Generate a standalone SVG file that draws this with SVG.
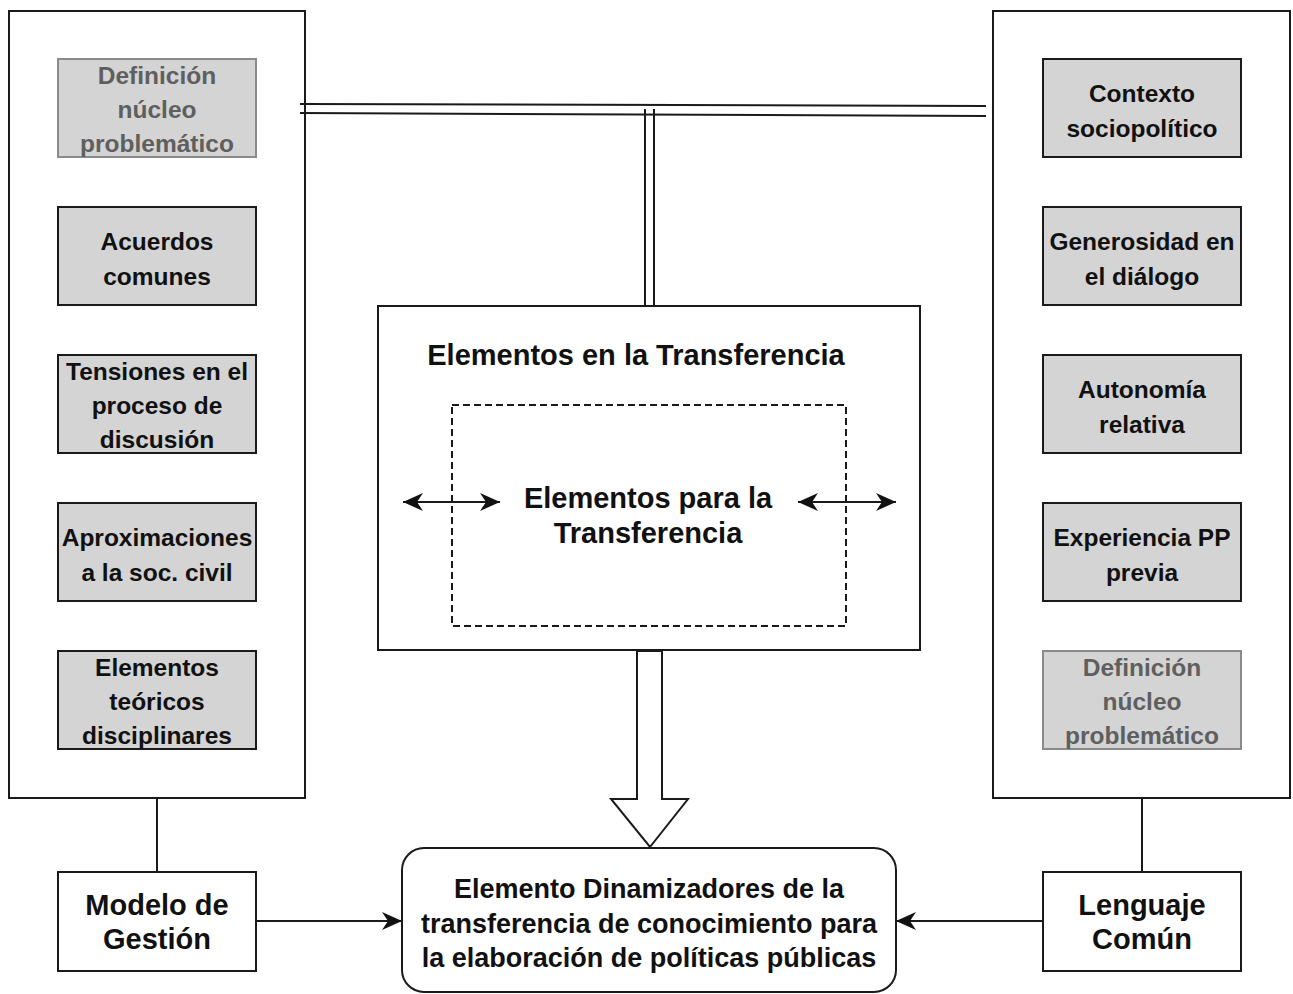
<svg xmlns="http://www.w3.org/2000/svg" width="1293" height="994" viewBox="0 0 1293 994">
<style>
.cont{fill:#fff;stroke:#1a1a1a;stroke-width:2}
.item{fill:#d4d4d4;stroke:#1a1a1a;stroke-width:2}
.itemg{fill:#d4d4d4;stroke:#8a8a8a;stroke-width:2}
.box{fill:#fff;stroke:#1a1a1a;stroke-width:2}
text{font-family:"Liberation Sans",Arial,Helvetica,sans-serif;font-weight:bold;text-anchor:middle;fill:#111}
.t24{font-size:24.5px}
.g{fill:#5f5f5f}
.t29{font-size:29px}
.t27{font-size:27px}
.ln{fill:none;stroke:#1a1a1a;stroke-width:2}
</style>
<defs>
<marker id="ah2" viewBox="0 0 10 10" refX="10" refY="5" markerWidth="20" markerHeight="20" markerUnits="userSpaceOnUse" orient="auto-start-reverse">
<path d="M0,0.5 L10,5 L0,9.5 L3,5 z" fill="#111"/>
</marker>
</defs>

<g id="left-container">
<rect class="cont" x="9" y="11" width="296" height="787"/>
</g>
<g id="right-container">
<rect class="cont" x="993" y="11" width="297" height="787"/>
</g>

<g id="connectors">
<path class="ln" d="M300,104 L986,106"/>
<path class="ln" d="M300,113 L986,116"/>
<path class="ln" d="M645,109 L645,306"/>
<path class="ln" d="M654,109 L654,306"/>
<path class="ln" d="M157,798 L157,872"/>
<path class="ln" d="M1142,798 L1142,872"/>
<path class="ln" d="M256,921 L402,921" marker-end="url(#ah2)"/>
<path class="ln" d="M1043,921 L896,921" marker-end="url(#ah2)"/>
<path d="M637,651 L662,651 L662,799 L688,799 L650,847 L611,799 L637,799 Z" fill="#fff" stroke="#1a1a1a" stroke-width="2" stroke-linejoin="miter"/>
</g>

<g id="l1"><rect class="itemg" x="58" y="59" width="198" height="98"/>
<text class="t24 g"><tspan x="157" y="84">Definición</tspan><tspan x="157" y="118">núcleo</tspan><tspan x="157" y="152">problemático</tspan></text></g>
<g id="l2"><rect class="item" x="58" y="207" width="198" height="98"/>
<text class="t24"><tspan x="157" y="250">Acuerdos</tspan><tspan x="157" y="285">comunes</tspan></text></g>
<g id="l3"><rect class="item" x="58" y="355" width="198" height="98"/>
<text class="t24"><tspan x="157" y="380">Tensiones en el</tspan><tspan x="157" y="414">proceso de</tspan><tspan x="157" y="448">discusión</tspan></text></g>
<g id="l4"><rect class="item" x="58" y="503" width="198" height="98"/>
<text class="t24"><tspan x="157" y="546">Aproximaciones</tspan><tspan x="157" y="581">a la soc. civil</tspan></text></g>
<g id="l5"><rect class="item" x="58" y="651" width="198" height="98"/>
<text class="t24"><tspan x="157" y="676">Elementos</tspan><tspan x="157" y="710">teóricos</tspan><tspan x="157" y="744">disciplinares</tspan></text></g>

<g id="r1"><rect class="item" x="1043" y="59" width="198" height="98"/>
<text class="t24"><tspan x="1142" y="102">Contexto</tspan><tspan x="1142" y="137">sociopolítico</tspan></text></g>
<g id="r2"><rect class="item" x="1043" y="207" width="198" height="98"/>
<text class="t24"><tspan x="1142" y="250">Generosidad en</tspan><tspan x="1142" y="285">el diálogo</tspan></text></g>
<g id="r3"><rect class="item" x="1043" y="355" width="198" height="98"/>
<text class="t24"><tspan x="1142" y="398">Autonomía</tspan><tspan x="1142" y="433">relativa</tspan></text></g>
<g id="r4"><rect class="item" x="1043" y="503" width="198" height="98"/>
<text class="t24"><tspan x="1142" y="546">Experiencia PP</tspan><tspan x="1142" y="581">previa</tspan></text></g>
<g id="r5"><rect class="itemg" x="1043" y="651" width="198" height="98"/>
<text class="t24 g"><tspan x="1142" y="676">Definición</tspan><tspan x="1142" y="710">núcleo</tspan><tspan x="1142" y="744">problemático</tspan></text></g>

<g id="middle">
<rect class="box" x="378" y="306" width="542" height="344"/>
<text class="t29" x="636" y="365">Elementos en la Transferencia</text>
</g>
<g id="inner">
<rect x="452" y="405" width="394" height="221" fill="none" stroke="#1a1a1a" stroke-width="2" stroke-dasharray="7 4"/>
<text class="t29"><tspan x="648" y="508">Elementos para la</tspan><tspan x="648" y="543">Transferencia</tspan></text>
<path class="ln" d="M403,502 L500,502" marker-start="url(#ah2)" marker-end="url(#ah2)"/>
<path class="ln" d="M798,502 L896,502" marker-start="url(#ah2)" marker-end="url(#ah2)"/>
</g>

<g id="modelo"><rect class="box" x="58" y="872" width="198" height="99"/>
<text class="t29"><tspan x="157" y="915">Modelo de</tspan><tspan x="157" y="949">Gestión</tspan></text></g>
<g id="lenguaje"><rect class="box" x="1043" y="872" width="198" height="99"/>
<text class="t29"><tspan x="1142" y="915">Lenguaje</tspan><tspan x="1142" y="949">Común</tspan></text></g>

<g id="dinamizadores"><rect class="box" x="402" y="848" width="494" height="144" rx="22" ry="22"/>
<text class="t27"><tspan x="649" y="898">Elemento Dinamizadores de la</tspan><tspan x="649" y="933">transferencia de conocimiento para</tspan><tspan x="649" y="967">la elaboración de políticas públicas</tspan></text></g>
</svg>
